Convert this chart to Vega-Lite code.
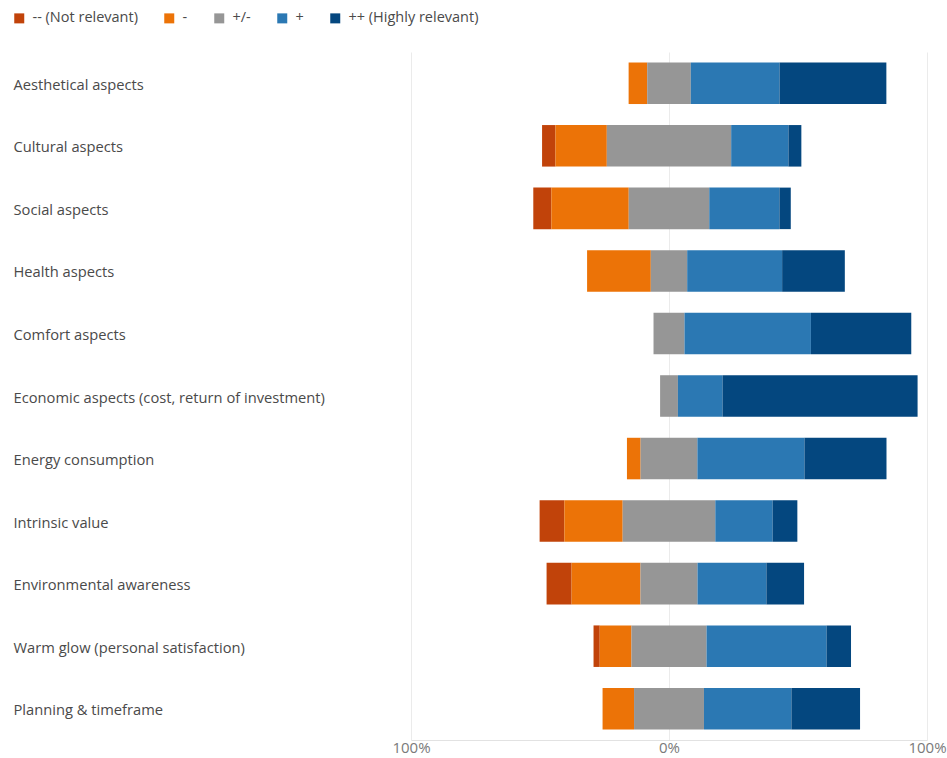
{
  "$schema": "https://vega.github.io/schema/vega-lite/v6.json",
  "width": 516,
  "height": 688,
  "autosize": {"type": "none"},
  "padding": {"left": 411, "top": 52, "right": 20, "bottom": 18},
  "background": "white",
  "data": {"values": [
    {"aspect": "Aesthetical aspects", "level": "-", "order": 2, "pct": 7.2},
    {"aspect": "Aesthetical aspects", "level": "+/-", "order": 3, "pct": 16.9},
    {"aspect": "Aesthetical aspects", "level": "+", "order": 4, "pct": 34.4},
    {"aspect": "Aesthetical aspects", "level": "++ (Highly relevant)", "order": 5, "pct": 41.4},
    {"aspect": "Cultural aspects", "level": "-- (Not relevant)", "order": 1, "pct": 5.2},
    {"aspect": "Cultural aspects", "level": "-", "order": 2, "pct": 19.9},
    {"aspect": "Cultural aspects", "level": "+/-", "order": 3, "pct": 48.2},
    {"aspect": "Cultural aspects", "level": "+", "order": 4, "pct": 22.2},
    {"aspect": "Cultural aspects", "level": "++ (Highly relevant)", "order": 5, "pct": 5.0},
    {"aspect": "Social aspects", "level": "-- (Not relevant)", "order": 1, "pct": 7.0},
    {"aspect": "Social aspects", "level": "-", "order": 2, "pct": 30.0},
    {"aspect": "Social aspects", "level": "+/-", "order": 3, "pct": 31.2},
    {"aspect": "Social aspects", "level": "+", "order": 4, "pct": 27.2},
    {"aspect": "Social aspects", "level": "++ (Highly relevant)", "order": 5, "pct": 4.4},
    {"aspect": "Health aspects", "level": "-", "order": 2, "pct": 24.7},
    {"aspect": "Health aspects", "level": "+/-", "order": 3, "pct": 14.1},
    {"aspect": "Health aspects", "level": "+", "order": 4, "pct": 36.8},
    {"aspect": "Health aspects", "level": "++ (Highly relevant)", "order": 5, "pct": 24.3},
    {"aspect": "Comfort aspects", "level": "+/-", "order": 3, "pct": 12.0},
    {"aspect": "Comfort aspects", "level": "+", "order": 4, "pct": 49.0},
    {"aspect": "Comfort aspects", "level": "++ (Highly relevant)", "order": 5, "pct": 38.9},
    {"aspect": "Economic aspects (cost, return of investment)", "level": "+/-", "order": 3, "pct": 6.9},
    {"aspect": "Economic aspects (cost, return of investment)", "level": "+", "order": 4, "pct": 17.3},
    {"aspect": "Economic aspects (cost, return of investment)", "level": "++ (Highly relevant)", "order": 5, "pct": 75.6},
    {"aspect": "Energy consumption", "level": "-", "order": 2, "pct": 5.3},
    {"aspect": "Energy consumption", "level": "+/-", "order": 3, "pct": 22.0},
    {"aspect": "Energy consumption", "level": "+", "order": 4, "pct": 41.5},
    {"aspect": "Energy consumption", "level": "++ (Highly relevant)", "order": 5, "pct": 31.8},
    {"aspect": "Intrinsic value", "level": "-- (Not relevant)", "order": 1, "pct": 9.6},
    {"aspect": "Intrinsic value", "level": "-", "order": 2, "pct": 22.6},
    {"aspect": "Intrinsic value", "level": "+/-", "order": 3, "pct": 35.9},
    {"aspect": "Intrinsic value", "level": "+", "order": 4, "pct": 22.2},
    {"aspect": "Intrinsic value", "level": "++ (Highly relevant)", "order": 5, "pct": 9.6},
    {"aspect": "Environmental awareness", "level": "-- (Not relevant)", "order": 1, "pct": 9.7},
    {"aspect": "Environmental awareness", "level": "-", "order": 2, "pct": 26.7},
    {"aspect": "Environmental awareness", "level": "+/-", "order": 3, "pct": 22.1},
    {"aspect": "Environmental awareness", "level": "+", "order": 4, "pct": 26.7},
    {"aspect": "Environmental awareness", "level": "++ (Highly relevant)", "order": 5, "pct": 14.6},
    {"aspect": "Warm glow (personal satisfaction)", "level": "-- (Not relevant)", "order": 1, "pct": 2.4},
    {"aspect": "Warm glow (personal satisfaction)", "level": "-", "order": 2, "pct": 12.3},
    {"aspect": "Warm glow (personal satisfaction)", "level": "+/-", "order": 3, "pct": 29.1},
    {"aspect": "Warm glow (personal satisfaction)", "level": "+", "order": 4, "pct": 46.5},
    {"aspect": "Warm glow (personal satisfaction)", "level": "++ (Highly relevant)", "order": 5, "pct": 9.5},
    {"aspect": "Planning & timeframe", "level": "-", "order": 2, "pct": 12.2},
    {"aspect": "Planning & timeframe", "level": "+/-", "order": 3, "pct": 27.1},
    {"aspect": "Planning & timeframe", "level": "+", "order": 4, "pct": 33.9},
    {"aspect": "Planning & timeframe", "level": "++ (Highly relevant)", "order": 5, "pct": 26.6}
  ]},
  "transform": [
    {"window": [{"op": "sum", "field": "pct", "as": "cum"}], "groupby": ["aspect"], "sort": [{"field": "order"}], "frame": [null, 0]},
    {"calculate": "datum.order < 3 ? datum.pct : (datum.order == 3 ? datum.pct / 2 : 0)", "as": "neg"},
    {"joinaggregate": [{"op": "sum", "field": "neg", "as": "off"}], "groupby": ["aspect"]},
    {"calculate": "datum.cum - datum.pct - datum.off", "as": "x0"},
    {"calculate": "datum.cum - datum.off", "as": "x1"}
  ],
  "mark": {"type": "bar"},
  "encoding": {
    "y": {
      "field": "aspect", "type": "nominal", "title": null,
      "sort": ["Aesthetical aspects", "Cultural aspects", "Social aspects", "Health aspects", "Comfort aspects", "Economic aspects (cost, return of investment)", "Energy consumption", "Intrinsic value", "Environmental awareness", "Warm glow (personal satisfaction)", "Planning & timeframe"],
      "scale": {"paddingInner": 0.336, "paddingOuter": 0.168},
      "axis": {"domain": false, "ticks": false, "tickSize": 0, "grid": false, "labelAlign": "left", "labelPadding": 398, "labelOffset": 2.5, "labelFont": "Open Sans", "labelFontSize": 14.7, "labelColor": "#4a4a4a", "labelLimit": 400}
    },
    "x": {
      "field": "x0", "type": "quantitative", "title": null,
      "scale": {"domain": [-100, 100], "nice": false},
      "axis": {"values": [-100, 0, 100], "labelExpr": "abs(datum.value) + '%'", "ticks": false, "tickSize": 0, "domain": true, "domainColor": "#e2e2e2", "gridColor": "#ebebeb", "labelFont": "Open Sans", "labelFontSize": 15, "labelColor": "#7a7a7a", "labelPadding": 0, "labelFlush": false}
    },
    "x2": {"field": "x1"},
    "color": {
      "field": "level", "type": "nominal", "title": null,
      "scale": {
        "domain": ["-- (Not relevant)", "-", "+/-", "+", "++ (Highly relevant)"],
        "range": ["#C1430A", "#EC7307", "#969696", "#2B78B3", "#04477F"]
      },
      "legend": {
        "orient": "none", "legendX": -399, "legendY": -41, "direction": "horizontal",
        "symbolType": "square", "symbolSize": 100, "symbolStrokeWidth": 0,
        "labelFont": "Open Sans", "labelFontSize": 14.5, "labelColor": "#4a4a4a",
        "labelOffset": 6, "columnPadding": 24
      }
    }
  },
  "config": {"view": {"stroke": null}}
}
